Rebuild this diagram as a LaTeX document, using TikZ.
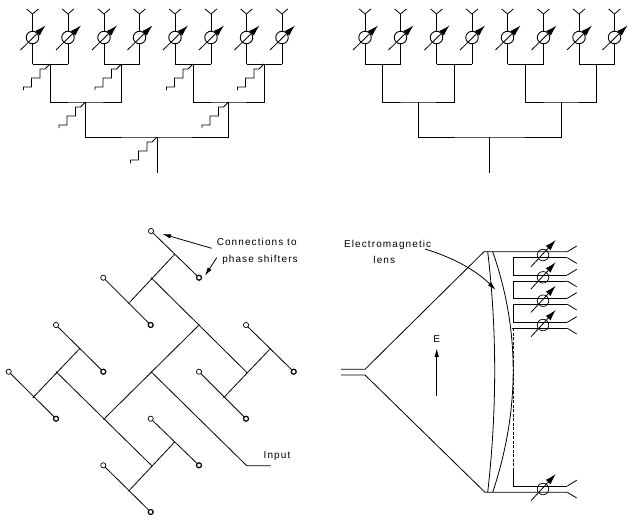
\documentclass[tikz,border=0pt]{standalone}
\usepackage{fontspec}
\usetikzlibrary{arrows.meta}
\newfontfamily\labelfont[LetterSpace=11]{Liberation Sans}
\begin{document}
\begin{tikzpicture}[x=1pt, y=-1pt, line cap=butt, line join=miter,
    wire/.style={line width=1pt},
    strip/.style={line width=0.8pt},
    shifter/.style={circle, draw, line width=0.9pt, minimum size=12.5pt, inner sep=0pt, outer sep=0pt},
    tune/.style={line width=0.8pt, -{Latex[length=11pt,width=6.5pt]}},
    lead/.style={line width=0.8pt, -{Latex[length=8.5pt,width=4.5pt]}},
    porta/.style={circle, draw, line width=0.7pt, minimum size=5.2pt, inner sep=0pt, outer sep=0pt},
    portb/.style={circle, draw, line width=1.2pt, minimum size=5pt, inner sep=0pt, outer sep=0pt},
    dotj/.style={circle, fill, minimum size=1.8pt, inner sep=0pt},
    txt/.style={font=\labelfont\fontsize{10}{12}\selectfont, inner sep=0pt}]
  \useasboundingbox (0,0) rectangle (628,520);
  % corporate feeds
  \foreach \dx/\t in {0/l,332.5/r} {
    \begin{scope}[shift={(\dx,0)}]
      \foreach \xa/\n in {32.5/1,68/2,104/3,139.5/4,175/5,211/6,246.5/7,282/8} {
        \coordinate (\t y\n) at (\xa,14);
        \coordinate (\t b\n) at (\xa,64);
        \node[shifter] (\t p\n) at (\xa,37.5) {};
        \draw[strip] ({\xa-5.8},9) -- (\t y\n) -- ({\xa+5.8},9);
        \draw[wire] (\t y\n) -- (\t p\n) -- (\t b\n);
        \draw[tune] ({\xa-12},50) -- ({\xa+13},25.5);
      }
      \coordinate (\t m1) at (50,64);
      \coordinate (\t m2) at (121.5,64);
      \coordinate (\t m3) at (193,64);
      \coordinate (\t m4) at (264,64);
      \coordinate (\t n1) at (85.5,102);
      \coordinate (\t n2) at (228.5,102);
      \coordinate (\t c) at (157,137);
      \coordinate (\t in) at (157,172.5);
      \draw[wire] (\t b1) -- (\t b2);
      \draw[wire] (\t b3) -- (\t b4);
      \draw[wire] (\t b5) -- (\t b6);
      \draw[wire] (\t b7) -- (\t b8);
      \draw[wire] (\t m1) |- (\t n1) -| (\t m2);
      \draw[wire] (\t m3) |- (\t n2) -| (\t m4);
      \draw[wire] (\t n1) |- (\t c) -| (\t n2);
      \draw[wire] (\t c) -- (\t in);
    \end{scope}
  }
  % time delay steps
  \foreach \j in {lm1,lm2,lm3,lm4,ln1,ln2,lc} {
    \draw[strip] (\j) -- ++(-5,5) -- ++(-5,0) -- ++(0,9) -- ++(-8.5,0) -- ++(0,9) -- ++(-8,0) -- ++(0,3);
  }
  % stripline feed
  \node[porta] (a1) at (151,231) {};
  \node[portb] (b1) at (199,277.7) {};
  \node[porta] (a2) at (103.3,277.7) {};
  \node[portb] (b2) at (150.7,325) {};
  \node[porta] (a3) at (246,325) {};
  \node[portb] (b3) at (293.7,371.7) {};
  \node[porta] (a4) at (199,371.7) {};
  \node[portb] (b4) at (246,418.7) {};
  \node[porta] (a5) at (56,325) {};
  \node[portb] (b5) at (103.3,371.7) {};
  \node[porta] (a6) at (8.7,371.7) {};
  \node[portb] (b6) at (56,418.7) {};
  \node[porta] (a7) at (150.7,418.7) {};
  \node[portb] (b7) at (199,465.3) {};
  \node[porta] (a8) at (103.3,465.3) {};
  \node[portb] (b8) at (150.7,512) {};
  \node[dotj] (t1) at (174,255) {};
  \node[dotj] (t2) at (129,303) {};
  \node[dotj] (t3) at (270,349) {};
  \node[dotj] (t4) at (224,397.3) {};
  \node[dotj] (t5) at (79.3,349) {};
  \node[dotj] (t6) at (33.3,397.3) {};
  \node[dotj] (t7) at (174,442.7) {};
  \node[dotj] (t8) at (129,490.7) {};
  \node[dotj] (s1) at (151.7,278.3) {};
  \node[dotj] (s2) at (246.7,372.3) {};
  \node[dotj] (s3) at (56.7,372.3) {};
  \node[dotj] (s4) at (151.7,465.7) {};
  \node[dotj] (q1) at (199,325) {};
  \node[dotj] (q2) at (104,419) {};
  \node[dotj] (q3) at (151.7,372.3) {};
  \coordinate (qe) at (246.7,465.7);
  \coordinate (qi) at (270.7,465.7);
  \foreach \n in {1,...,8} {
    \draw[strip] (a\n) -- (b\n);
  }
  \draw[strip] (t1) -- (t2);
  \draw[strip] (t3) -- (t4);
  \draw[strip] (t5) -- (t6);
  \draw[strip] (t7) -- (t8);
  \draw[strip] (s1) -- (s2);
  \draw[strip] (s3) -- (s4);
  \draw[strip] (q1) -- (q2);
  \draw[strip] (q3) -- (qe) -- (qi);
  \node[txt] (conn) at (256.7,242.3) {Connections to};
  \node[txt] (phase) at (260,260.3) {phase shifters};
  \node[txt] (input) at (277,455.7) {Input};
  \coordinate (l1) at (211.7,248.3);
  \coordinate (l2) at (216.7,257.7);
  \coordinate (k1) at (162.5,234);
  \coordinate (k2) at (205,275.7);
  \draw[lead] (l1) -- (k1);
  \draw[lead] (l2) -- (k2);
  % lens and horn
  \coordinate (f1) at (341,369.3);
  \coordinate (f2) at (341,375);
  \coordinate (h1) at (365,369.3);
  \coordinate (h2) at (365,375);
  \coordinate (u) at (484,251.7);
  \coordinate (d) at (485,492.3);
  \draw[strip] (f1) -- (h1) -- (u) -- (567.3,251.7);
  \draw[strip] (f2) -- (h2) -- (d) -- (567.3,492.3);
  \draw[strip] (487.7,251.7) .. controls (497,330) and (497,410) .. (487.7,492.3);
  \draw[strip] (492.7,251.7) .. controls (520,330) and (520,410) .. (492.7,492.3);
  \draw[strip, dashed, dash pattern=on 3pt off 1.5pt] (513.3,328.3) -- (513.3,468);
  \draw[strip] (513.3,468) -- (513.3,486) -- (567.3,486);
  \draw[strip] (513.3,257.7) -- (567.3,257.7);
  \draw[strip] (513.3,257.7) -- (513.3,275) -- (567.3,275);
  \draw[strip] (513.3,281) -- (567.3,281);
  \draw[strip] (513.3,281) -- (513.3,298.3) -- (567.3,298.3);
  \draw[strip] (513.3,304.3) -- (567.3,304.3);
  \draw[strip] (513.3,304.3) -- (513.3,322.3) -- (567.3,322.3);
  \draw[strip] (511.7,328.3) -- (567.3,328.3);
  % output tails, shifters on top
  \foreach \ya/\yb in {251.7/257.7,275/281,298.3/304.3,322.3/328.3,486/492.3} {
    \draw[strip] (567.3,\ya) -- (576.7,{\ya-5.7});
    \draw[strip] (567.3,\yb) -- (576.7,{\yb+5.7});
  }
  \foreach \yc/\n in {255/1,277.3/2,300.7/3,325/4,489/5} {
    \node[shifter, line width=0.7pt, minimum size=11.5pt] (o\n) at (543,\yc) {};
    \draw[tune] (531,{\yc+11.7}) -- (555.7,{\yc-15});
  }
  \node[txt] (em) at (387.7,245) {Electromagnetic};
  \node[txt] (lens) at (384.3,260) {lens};
  \node[txt] (e) at (436.7,339) {E};
  \coordinate (e0) at (436.7,395.7);
  \coordinate (e1) at (436.7,348.3);
  \coordinate (l3) at (425,249);
  \coordinate (l4) at (495.7,290);
  \draw[lead] (e0) -- (e1);
  \draw[lead] (l3) .. controls (455,258) and (478,272) .. (l4);
\end{tikzpicture}
\end{document}
